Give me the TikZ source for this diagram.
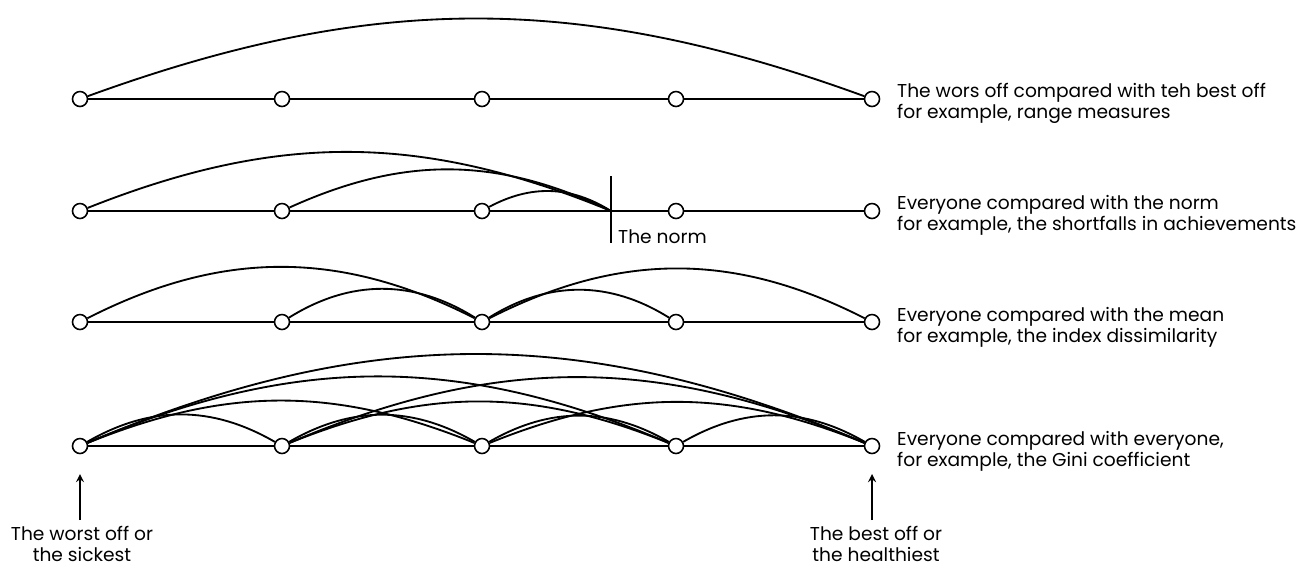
\documentclass[tikz,border=0pt]{standalone}
\usepackage{fontspec}
\setmainfont{Poppins}
\begin{document}
\begin{tikzpicture}[x=0.02cm, y=-0.02cm,
        person/.style={circle, draw=black, fill=white, line width=0.9pt, inner sep=0pt, minimum size=0.3cm},
        link/.style={black, line width=1.05pt},
        note/.style={anchor=west, align=left, font=\fontsize{10.6}{12}\selectfont},
        tag/.style={align=center, font=\fontsize{10.6}{12}\selectfont}]
        \useasboundingbox (0,0) rectangle (1300,566);
        % the worse off against the best off
        \node[person] (a1) at (80,99) {};
        \node[person] (a2) at (282,99) {};
        \node[person] (a3) at (482,99) {};
        \node[person] (a4) at (676,99) {};
        \node[person] (a5) at (872,99) {};
        \draw[link] (a1) -- (a2) -- (a3) -- (a4) -- (a5);
        \draw[link] (a1) to[bend left=20] (a5);
        \node[note] (t1) at (891,103) {The wors off compared with teh best off\\for example, range measures};
        % against the norm
        \node[person] (b1) at (80,211) {};
        \node[person] (b2) at (282,211) {};
        \node[person] (b3) at (482,211) {};
        \node[person] (b4) at (676,211) {};
        \node[person] (b5) at (872,211) {};
        \coordinate (norm) at (611,211);
        \coordinate (normtop) at (611,176);
        \coordinate (normbot) at (611,243);
        \draw[link] (b1) -- (b2) -- (b3) -- (b4) -- (b5);
        \draw[link] (normtop) -- (normbot);
        \draw[link] (b1) to[bend left=22] (norm);
        \draw[link] (b2) to[bend left=25] (norm);
        \draw[link] (b3) to[bend left=30] (norm);
        \node[anchor=west, font=\fontsize{10.6}{12}\selectfont] (normlbl) at (612,237) {The norm};
        \node[note] (t2) at (891,215) {Everyone compared with the norm\\for example, the shortfalls in achievements};
        % against the mean
        \node[person] (c1) at (80,322) {};
        \node[person] (c2) at (282,322) {};
        \node[person] (c3) at (482,322) {};
        \node[person] (c4) at (676,322) {};
        \node[person] (c5) at (872,322) {};
        \draw[link] (c1) -- (c2) -- (c3) -- (c4) -- (c5);
        \draw[link] (c1) to[bend left=27] (c3);
        \draw[link] (c2) to[bend left=32] (c3);
        \draw[link] (c3) to[bend left=32] (c4);
        \draw[link] (c3) to[bend left=27] (c5);
        \node[note] (t3) at (891,327) {Everyone compared with the mean\\for example, the index dissimilarity};
        % everyone against everyone
        \node[person] (d1) at (80,446) {};
        \node[person] (d2) at (282,446) {};
        \node[person] (d3) at (482,446) {};
        \node[person] (d4) at (676,446) {};
        \node[person] (d5) at (872,446) {};
        \draw[link] (d1) -- (d2) -- (d3) -- (d4) -- (d5);
        \draw[link] (d1) to[bend left=30] (d2);
        \draw[link] (d2) to[bend left=30] (d3);
        \draw[link] (d3) to[bend left=30] (d4);
        \draw[link] (d4) to[bend left=30] (d5);
        \draw[link] (d1) to[bend left=22] (d3);
        \draw[link] (d2) to[bend left=22] (d4);
        \draw[link] (d3) to[bend left=22] (d5);
        \draw[link] (d1) to[bend left=23] (d4);
        \draw[link] (d2) to[bend left=23] (d5);
        \draw[link] (d1) to[bend left=23] (d5);
        \node[note] (t4) at (891,451) {Everyone compared with everyone,\\for example, the Gini coefficient};
        % the two ends
        \node[tag] (worst) at (82,544) {The worst off or\\the sickest};
        \node[tag] (best) at (876,544) {The best off or\\the healthiest};
        \coordinate (worsttip) at (80,474);
        \coordinate (besttip) at (872,474);
        \draw[link, -stealth] (worst.north -| worsttip) -- (worsttip);
        \draw[link, -stealth] (best.north -| besttip) -- (besttip);
    \end{tikzpicture}
\end{document}
